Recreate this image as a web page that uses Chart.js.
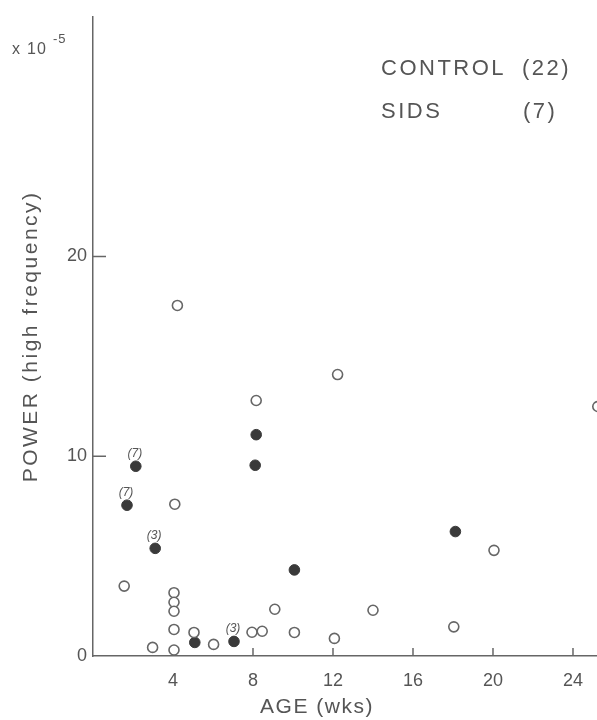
<!DOCTYPE html>
<html><head><meta charset="utf-8">
<script src="https://cdn.jsdelivr.net/npm/chart.js@4/dist/chart.umd.min.js"></script>
<style>html,body{margin:0;padding:0;background:#fff;overflow:hidden}canvas{display:block}</style>
</head><body>
<canvas id="c" width="597" height="720"></canvas>
<script>
// ---- data (age in weeks, power x 10^-5) ----
const controlAge   = [1.56, 2.98, 4.22, 4.09, 4.05, 4.05, 4.05, 4.05, 4.05, 5.05, 6.03, 7.95, 8.46, 8.16, 9.09, 10.07, 12.07, 12.23, 14.0, 18.04, 20.05, 25.24];
const controlPower = [3.50, 0.43, 17.55, 7.60, 3.17, 2.69, 2.24, 1.33, 0.30, 1.18, 0.58, 1.19, 1.24, 12.79, 2.34, 1.18, 0.88, 14.09, 2.29, 1.46, 5.29, 12.49];
const sidsAge      = [2.14, 1.70, 3.11, 5.09, 7.05, 8.16, 8.11, 10.07, 18.12];
const sidsPower    = [9.50, 7.55, 5.39, 0.68, 0.73, 11.08, 9.55, 4.31, 6.23];
const sidsNotes    = ['(7)', '(7)', '(3)', '', '(3)', '', '', '', ''];
const xTicks = [4, 8, 12, 16, 20, 24];
const yTicks = [0, 10, 20];
const legendNames  = ['CONTROL', 'SIDS'];
const legendCounts = ['(22)', '(7)'];

const ink = '#555';
const axisColor = '#666';
const FONT = '"Liberation Sans", Arial, sans-serif';

const toPts = (xs, ys) => xs.map((v, i) => ({x: v, y: ys[i]}));

const deco = {
  id: 'deco',
  beforeDatasetsDraw(chart) {
    const {ctx, chartArea: a, scales: {x, y}} = chart;
    ctx.save();
    ctx.strokeStyle = axisColor; ctx.lineWidth = 1.5;
    xTicks.forEach(v => {
      const px = x.getPixelForValue(v);
      ctx.beginPath(); ctx.moveTo(px, a.bottom); ctx.lineTo(px, a.bottom - 8); ctx.stroke();
    });
    yTicks.filter(v => v > 0).forEach(v => {
      const py = y.getPixelForValue(v);
      ctx.beginPath(); ctx.moveTo(a.left, py); ctx.lineTo(a.left + 13, py); ctx.stroke();
    });
    ctx.restore();
  },
  afterDraw(chart) {
    const {ctx, scales: {x, y}} = chart;
    ctx.save();
    ctx.fillStyle = ink;
    // point annotations
    ctx.font = 'italic 12px ' + FONT;
    ctx.textAlign = 'center'; ctx.textBaseline = 'middle';
    const meta = chart.getDatasetMeta(1);
    sidsNotes.forEach((t, i) => {
      if (!t) return;
      const p = meta.data[i];
      ctx.fillText(t, p.x - 1, p.y - 13);
    });
    // legend text
    ctx.textAlign = 'left'; ctx.textBaseline = 'alphabetic';
    ctx.font = '22px ' + FONT;
    ctx.letterSpacing = '2.5px';
    ctx.fillText(legendNames[0], 381, 75);
    ctx.fillText(legendCounts[0], 522, 75);
    ctx.fillText(legendNames[1], 381, 118);
    ctx.fillText(legendCounts[1], 523, 118);
    // multiplier
    ctx.letterSpacing = '1px';
    ctx.font = '16px ' + FONT;
    ctx.fillText('x', 12, 54);
    ctx.fillText('10', 27, 54);
    ctx.font = '13px ' + FONT;
    ctx.fillText('-5', 53, 43);
    // axis titles
    ctx.font = '21px ' + FONT;
    ctx.letterSpacing = '1.5px';
    ctx.textAlign = 'center'; ctx.textBaseline = 'middle';
    ctx.fillText('AGE (wks)', x.getPixelForValue(11.2), 707);
    ctx.translate(31, y.getPixelForValue(16));
    ctx.rotate(-Math.PI / 2);
    ctx.letterSpacing = '2.5px';
    ctx.fillText('POWER (high frequency)', 0, 0);
    ctx.restore();
  }
};

new Chart(document.getElementById('c'), {
  type: 'scatter',
  data: {
    datasets: [
      {label: 'CONTROL', data: toPts(controlAge, controlPower), clip: false,
       pointRadius: 5, pointBorderWidth: 1.6, pointBackgroundColor: '#fff', pointBorderColor: '#666'},
      {label: 'SIDS', data: toPts(sidsAge, sidsPower), clip: false,
       pointRadius: 5.3, pointBorderWidth: 1, pointBackgroundColor: '#3a3a3a', pointBorderColor: '#3a3a3a'}
    ]
  },
  options: {
    responsive: false, animation: false, devicePixelRatio: 1,
    layout: {autoPadding: false, padding: {top: 12, right: 0, left: 0, bottom: 0}},
    plugins: {legend: {display: false}, tooltip: {enabled: false}},
    scales: {
      x: {
        type: 'linear', min: 0, max: 25.2,
        afterBuildTicks: s => { s.ticks = xTicks.map(v => ({value: v})); },
        afterFit: s => { s.height = 64; },
        grid: {display: false, drawTicks: false},
        border: {display: true, color: axisColor, width: 1.5},
        ticks: {color: ink, font: {family: FONT, size: 18}, padding: 14, maxRotation: 0, autoSkip: false}
      },
      y: {
        type: 'linear', min: 0, max: 32,
        afterBuildTicks: s => { s.ticks = yTicks.map(v => ({value: v})); },
        afterFit: s => { s.width = 93; },
        grid: {display: false, drawTicks: false},
        border: {display: true, color: axisColor, width: 1.5},
        ticks: {color: ink, font: {family: FONT, size: 18}, padding: 6, autoSkip: false}
      }
    }
  },
  plugins: [deco]
});
</script>
</body></html>
